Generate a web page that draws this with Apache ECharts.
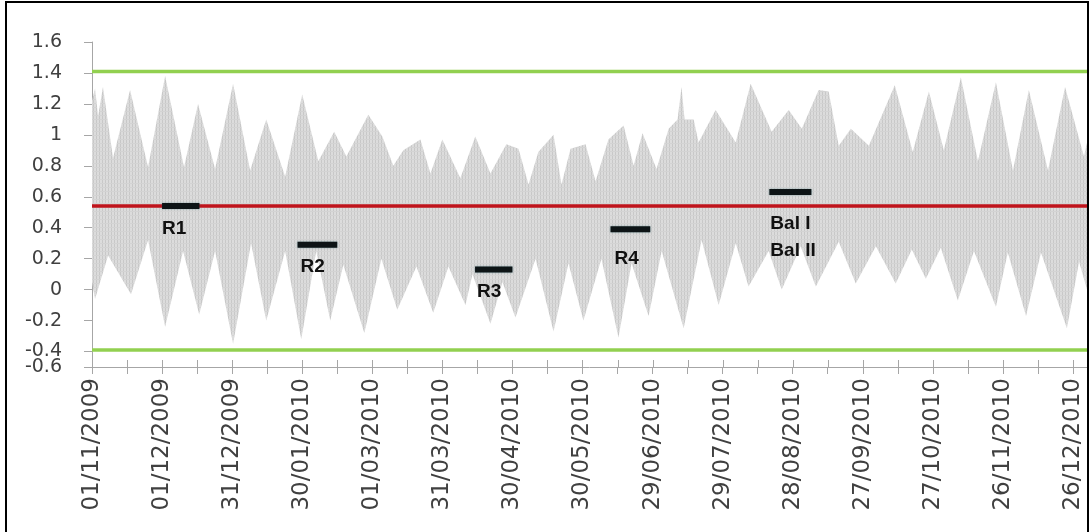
<!DOCTYPE html>
<html>
<head>
<meta charset="utf-8">
<script src="https://cdn.jsdelivr.net/npm/echarts@6/dist/echarts.min.js"></script>
<style>html,body{margin:0;padding:0;background:#fff}#c{width:1090px;height:532px}</style>
</head>
<body>
<div id="c"></div>
<script>
// ---- data (x = days since 01/11/2009) ----
const startDate = '2009-11-01';
const xTickLabels = ['01/11/2009','01/12/2009','31/12/2009','30/01/2010','01/03/2010','31/03/2010','30/04/2010','30/05/2010','29/06/2010','29/07/2010','28/08/2010','27/09/2010','27/10/2010','26/11/2010','26/12/2010'];
const xTickDays = [0,30,60,90,120,150,180,210,240,270,300,330,360,390,420];
const xMinorDays = [15,45,75,105,135,165,195,225,255,285,315,345,375,405];
const yTickPos = [-0.4,-0.2,0,0.2,0.4,0.6,0.8,1,1.2,1.4,1.6];
const yTickLabels = ['-0.4','-0.2','0','0.2','0.4','0.6','0.8','1','1.2','1.4','1.6'];
const yBottomPos = -0.5;
const yBottomLabel = '-0.6';

// envelope of water level (turning points)
const upperDays = [0,1.3,2.6,4.7,9.0,16.3,24.0,31.3,39.4,45.4,52.7,60.4,67.7,74.6,82.7,90.0,96.9,103.7,108.9,118.3,124.3,129.0,133.3,140.6,144.9,150.0,157.7,164.1,170.6,177.4,182.6,186.9,191.1,197.6,201.0,204.9,211.3,215.6,221.1,227.6,231.9,235.7,241.7,246.9,250.7,252.4,253.7,257.6,259.7,267.0,275.6,282.0,291.0,298.3,303.9,311.1,315.4,319.7,324.9,332.6,343.7,351.4,358.3,364.7,372.0,379.3,387.0,394.3,401.1,409.3,416.6,424.7,426];
const upperVals = [1.22,1.30,1.12,1.31,0.85,1.29,0.79,1.38,0.79,1.20,0.78,1.33,0.77,1.10,0.73,1.26,0.83,1.02,0.86,1.13,0.99,0.80,0.90,0.97,0.75,0.97,0.72,0.99,0.75,0.94,0.91,0.68,0.89,1.00,0.68,0.91,0.94,0.70,0.97,1.06,0.80,1.01,0.78,1.04,1.10,1.31,1.10,1.10,0.95,1.16,0.95,1.33,1.02,1.16,1.04,1.29,1.28,0.93,1.04,0.93,1.32,0.89,1.28,0.90,1.37,0.83,1.34,0.77,1.29,0.77,1.31,0.86,0.95];
const lowerDays = [0,1.3,6.9,16.7,24.0,31.3,39.0,45.9,52.7,60.4,68.1,74.6,82.7,89.6,96.0,102.0,107.6,116.6,123.9,130.7,138.9,146.1,152.6,159.9,162.9,170.6,175.7,181.3,189.9,197.6,204.0,210.4,218.1,225.4,231.0,238.3,243.9,253.3,261.0,268.3,275.6,281.1,289.7,295.3,303.4,309.9,319.7,327.0,335.6,344.1,351.0,357.0,363.4,370.7,377.6,387.0,392.1,399.9,406.3,417.4,422.6,426];
const lowerVals = [0.05,-0.06,0.22,-0.03,0.32,-0.24,0.25,-0.16,0.25,-0.35,0.30,-0.20,0.25,-0.32,0.25,-0.20,0.16,-0.28,0.20,-0.13,0.15,-0.15,0.15,-0.10,0.10,-0.22,0.05,-0.18,0.20,-0.27,0.17,-0.20,0.20,-0.31,0.17,-0.17,0.25,-0.25,0.32,-0.10,0.30,0.02,0.25,0.00,0.28,0.02,0.31,0.04,0.28,0.04,0.26,0.07,0.27,-0.07,0.25,-0.11,0.24,-0.17,0.24,-0.25,0.18,0.00];

// reference levels
const upperLimit = 1.41;
const lowerLimit = -0.39;
const meanLevel = 0.54;

// survey periods
const periodNames = ['R1','R2','R3','R4','Bal I\nBal II'];
const periodStart = ['2009-12-01','2010-01-28','2010-04-14','2010-06-11','2010-08-18'];
const periodEnd = ['2009-12-17','2010-02-14','2010-04-30','2010-06-28','2010-09-05'];
const periodLevel = [0.54,0.29,0.13,0.39,0.63];

// ---- build ----
function dayOf(s){const a=s.split('-').map(Number);const b=startDate.split('-').map(Number);return (Date.UTC(a[0],a[1]-1,a[2])-Date.UTC(b[0],b[1]-1,b[2]))/86400000;}
const xMin = 0, xMax = 426;

const pc = document.createElement('canvas');
pc.width = 3; pc.height = 4;
const pctx = pc.getContext('2d');
pctx.fillStyle = '#dcdcdc'; pctx.fillRect(0,0,3,4);
pctx.fillStyle = '#c8c8c8'; pctx.fillRect(0,0,1,4);
pctx.fillStyle = '#d3d3d3'; pctx.fillRect(0,3,3,1);

const labelOffsets = [[0,9],[3,9],[2,9],[4,16],[1,18]];

const series = [];
series.push({
  type:'custom', name:'level', xAxisIndex:0, yAxisIndex:0, z:1, silent:true, clip:true,
  data:[[0,0]],
  renderItem:function(params, api){
    const pts = [];
    for(let i=0;i<upperDays.length;i++) pts.push(api.coord([upperDays[i], upperVals[i]]));
    for(let i=lowerDays.length-1;i>=0;i--) pts.push(api.coord([lowerDays[i], lowerVals[i]]));
    return {type:'polygon', shape:{points:pts}, style:{fill:{image:pc, repeat:'repeat'}, stroke:null}};
  }
});
// upper half of the "cross" tick marks on the date axis
series.push({
  type:'custom', xAxisIndex:0, yAxisIndex:0, z:2, silent:true, clip:false,
  data:xTickDays.concat(xMinorDays).map(function(d){return [d, yBottomPos];}),
  renderItem:function(params, api){
    const p = api.coord([api.value(0), api.value(1)]);
    return {type:'line', shape:{x1:Math.round(p[0])+0.5, y1:p[1], x2:Math.round(p[0])+0.5, y2:p[1]-7}, style:{stroke:'#a6a6a6', lineWidth:1}};
  }
});
function hline(v, color, w){
  return {type:'line', xAxisIndex:0, yAxisIndex:0, z:3, symbol:'none', silent:true,
    data:[[xMin,v],[xMax,v]], lineStyle:{color:color, width:w}};
}
series.push(hline(upperLimit,'#92d050',3.5));
series.push(hline(lowerLimit,'#92d050',3.5));
series.push(hline(meanLevel,'#c0141c',3.5));
periodNames.forEach(function(n,i){
  const d0 = dayOf(periodStart[i]), d1 = dayOf(periodEnd[i]);
  series.push({type:'line', xAxisIndex:0, yAxisIndex:0, z:5, silent:true,
    symbol:'circle', symbolSize:0.01, showSymbol:true, showAllSymbol:true,
    itemStyle:{color:'rgba(0,0,0,0)'},
    data:[[d0,periodLevel[i]],[d1,periodLevel[i]]],
    lineStyle:{color:'#0d1416', width:6, cap:'butt', shadowColor:'rgba(40,110,120,0.5)', shadowBlur:2},
    label:{show:true, formatter:function(p){return p.dataIndex===0?n:'';}, position:labelOffsets[i], align:'left', verticalAlign:'top',
      fontFamily:'Liberation Sans', fontWeight:'bold', fontSize:19, lineHeight:27, color:'#111'},
    labelLayout:{hideOverlap:false}
  });
});

const yLabelStyle = {margin:30, fontFamily:'DejaVu Sans', fontSize:19, color:'#404040'};
const chart = echarts.init(document.getElementById('c'), null, {renderer:'canvas'});
chart.setOption({
  animation:false,
  backgroundColor:'#fff',
  graphic:[{type:'rect', shape:{x:6, y:2, width:1082, height:560}, style:{fill:null, stroke:'#000', lineWidth:2}, z:100}],
  grid:{left:92, top:42, right:3, bottom:165, containLabel:false},
  xAxis:[{
    type:'value', min:xMin, max:xMax, position:'bottom',
    axisLine:{show:true, onZero:false, lineStyle:{color:'#a6a6a6', width:1}},
    splitLine:{show:false},
    axisTick:{show:true, length:7, inside:false, customValues:xTickDays.concat(xMinorDays), lineStyle:{color:'#a6a6a6'}},
    axisLabel:{show:true, customValues:xTickDays, rotate:90, margin:11, fontFamily:'DejaVu Sans', fontSize:23, color:'#404040',
      formatter:function(v){const i=xTickDays.indexOf(Math.round(v)); return i>=0?xTickLabels[i]:'';}}
  }],
  yAxis:[{
    type:'value', min:yBottomPos, max:1.6, position:'left',
    axisLine:{show:true, onZero:false, lineStyle:{color:'#a6a6a6', width:1}},
    splitLine:{show:false},
    axisTick:{show:true, length:8, customValues:[yBottomPos].concat(yTickPos), lineStyle:{color:'#a6a6a6'}},
    axisLabel:Object.assign({show:true, customValues:yTickPos,
      formatter:function(v){for(let i=0;i<yTickPos.length;i++){if(Math.abs(yTickPos[i]-v)<1e-6) return yTickLabels[i];} return '';}}, yLabelStyle)
  },{
    type:'value', min:yBottomPos, max:1.6, position:'left', offset:0,
    axisLine:{show:false, onZero:false}, splitLine:{show:false}, axisTick:{show:false},
    axisLabel:Object.assign({show:true, customValues:[yBottomPos], showMinLabel:true, formatter:function(){return yBottomLabel;}}, yLabelStyle)
  }],
  series:series
});
</script>
</body>
</html>
